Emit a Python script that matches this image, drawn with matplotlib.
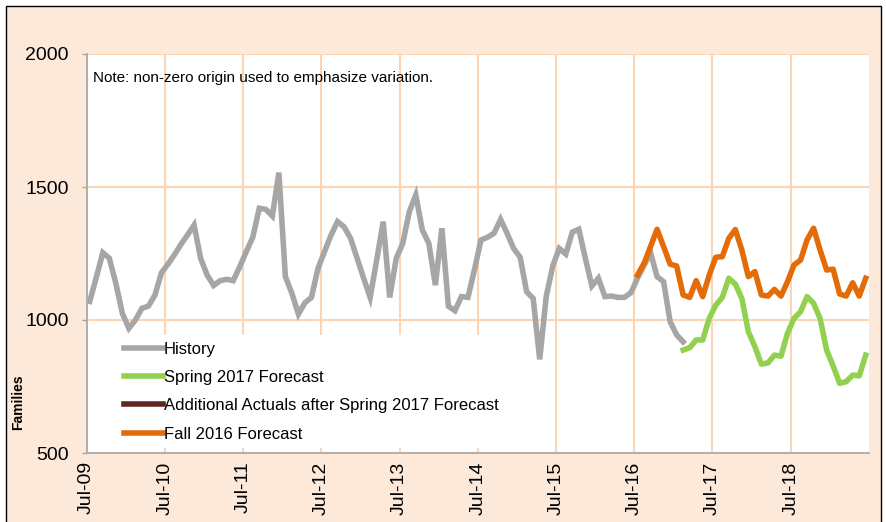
import matplotlib
matplotlib.use("Agg")
import matplotlib.pyplot as plt
from matplotlib.patches import Rectangle
import pandas as pd

plt.rcParams['font.family'] = ['Liberation Sans', 'DejaVu Sans']

# ---- data (months from Jul-2009) ----
months = pd.period_range("2009-07", "2019-06", freq="M")
tick_labels = ["Jul-09", "Jul-10", "Jul-11", "Jul-12", "Jul-13",
               "Jul-14", "Jul-15", "Jul-16", "Jul-17", "Jul-18"]

history_start = "2009-07"
history = [1070, 1160, 1253, 1232, 1138, 1025, 969, 1000, 1044, 1052, 1094, 1178,
           1210, 1246, 1285, 1320, 1357, 1232, 1169, 1130, 1148, 1153, 1148, 1200,
           1257, 1311, 1420, 1416, 1391, 1554, 1163, 1100, 1022, 1065, 1085, 1194,
           1257, 1319, 1370, 1350, 1307, 1232, 1157, 1085, 1225, 1370, 1085, 1232,
           1288, 1407, 1470, 1338, 1288, 1131, 1345, 1052, 1035, 1088, 1085, 1190,
           1301, 1311, 1326, 1378, 1326, 1269, 1236, 1106, 1081, 852, 1088, 1203,
           1269, 1248, 1330, 1341, 1232, 1128, 1157, 1088, 1090, 1085, 1085, 1103,
           1157, 1205, 1253, 1163, 1144, 994, 944, 918]

spring_start = "2017-02"
spring2017 = [887, 896, 925, 925, 1006, 1056, 1085, 1157, 1135, 1081, 956, 900,
              834, 839, 868, 864, 950, 1006, 1031, 1088, 1063, 1006, 887, 827,
              762, 768, 793, 790, 868]

additional_actuals = []

fall_start = "2016-07"
fall2016 = [1169, 1213, 1276, 1341, 1276, 1210, 1203, 1094, 1085, 1148, 1088, 1169,
            1236, 1238, 1307, 1340, 1263, 1163, 1182, 1094, 1090, 1115, 1090, 1144,
            1207, 1225, 1301, 1345, 1263, 1188, 1191, 1098, 1090, 1140, 1090, 1157]

series_names = ["History", "Spring 2017 Forecast",
                "Additional Actuals after Spring 2017 Forecast", "Fall 2016 Forecast"]
colors = ["#A6A6A6", "#92D050", "#632523", "#E36C09"]


def xpos(start, n):
    i0 = list(months).index(pd.Period(start, freq="M"))
    return list(range(i0, i0 + n))


fig = plt.figure(figsize=(8.86, 5.22), dpi=100)
fig.patch.set_facecolor("white")
fig.add_artist(Rectangle((5.5 / 886, -0.02), (881 - 5.5) / 886, 1.02 - 5.5 / 522,
                         transform=fig.transFigure, facecolor="#FDE9D9",
                         edgecolor="black", lw=1.0, zorder=-10))

ax = fig.add_axes([86.5 / 886, 69 / 522, 782.5 / 886, 399 / 522])
ax.set_facecolor("white")

ax.plot(xpos(history_start, len(history)), history, color=colors[0], lw=4,
        label=series_names[0], solid_joinstyle="miter", zorder=3)
ax.plot(xpos(spring_start, len(spring2017)), spring2017, color=colors[1], lw=4,
        label=series_names[1], zorder=3)
ax.plot([], [], color=colors[2], lw=4, label=series_names[2])
ax.plot(xpos(fall_start, len(fall2016)), fall2016, color=colors[3], lw=4,
        label=series_names[3], zorder=3)

ax.set_xlim(-0.5, len(months) - 0.5)
ax.set_ylim(500, 2000)
ax.set_yticks([500, 1000, 1500, 2000])
jul_idx = [i for i, m in enumerate(months) if m.month == 7]
ax.set_xticks([i - 0.5 for i in jul_idx])
ax.set_xticklabels(tick_labels, rotation=90, fontsize=14)
ax.tick_params(axis="x", length=0, pad=6)
ax.tick_params(axis="y", length=3.6, color="#A6A6A6", pad=9, labelsize=14, width=1)

ax.grid(True, color="#FCD5B4", lw=1.5, zorder=0)
ax.set_axisbelow(True)
for s in ["top", "right"]:
    ax.spines[s].set_visible(False)
for s in ["left", "bottom"]:
    ax.spines[s].set_color("#A6A6A6")
    ax.spines[s].set_linewidth(1.2)

ax.text(0.008, 0.94, "Note: non-zero origin used to emphasize variation.",
        transform=ax.transAxes, fontsize=11, va="center", ha="left")

fig.text(18 / 886, 1 - 402 / 522, "Families", rotation=90, fontsize=10,
         fontweight="bold", ha="center", va="center")

leg = ax.legend(loc="upper left", bbox_to_anchor=(0.040, 0.296), fontsize=12,
                frameon=True, facecolor="white", edgecolor="none", framealpha=1,
                handlelength=2.3, handletextpad=0.05, labelspacing=0.80,
                borderaxespad=0, borderpad=0.4, fancybox=False)
for line in leg.get_lines():
    line.set_linewidth(4)

fig.savefig("out.png", dpi=100, facecolor=fig.get_facecolor())
